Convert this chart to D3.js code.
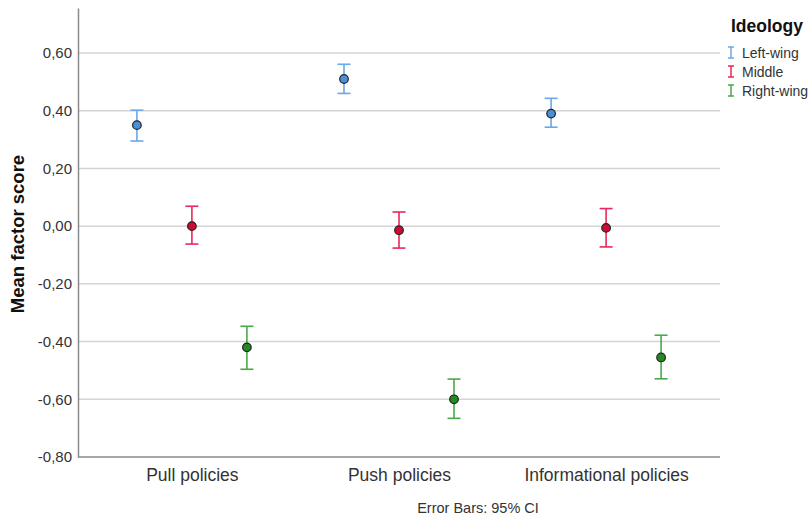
<!DOCTYPE html>
<html>
<head>
<meta charset="utf-8">
<script src="https://cdn.jsdelivr.net/npm/d3@7"></script>
<style>
  body { margin: 0; background: #fff; }
  text { font-family: "Liberation Sans", Arial, sans-serif; }
</style>
</head>
<body>
<div id="chart"></div>
<script>
// data
var categories = ["Pull policies", "Push policies", "Informational policies"];
var groups = ["Left-wing", "Middle", "Right-wing"];
var leftMean = [0.35, 0.51, 0.39];
var leftLow = [0.295, 0.46, 0.343];
var leftHigh = [0.402, 0.561, 0.443];
var middleMean = [0.00, -0.014, -0.006];
var middleLow = [-0.062, -0.076, -0.072];
var middleHigh = [0.069, 0.049, 0.061];
var rightMean = [-0.42, -0.60, -0.455];
var rightLow = [-0.496, -0.666, -0.529];
var rightHigh = [-0.347, -0.53, -0.378];
var yTicks = [-0.8, -0.6, -0.4, -0.2, 0, 0.2, 0.4, 0.6];

var series = [
    { name: groups[0], mean: leftMean, lo: leftLow, hi: leftHigh, bar: "#6aa8ec", fill: "#4b8fd6" },
    { name: groups[1], mean: middleMean, lo: middleLow, hi: middleHigh, bar: "#e8285a", fill: "#cc0a35" },
    { name: groups[2], mean: rightMean, lo: rightLow, hi: rightHigh, bar: "#4aa84a", fill: "#238a23" }
];

// plot box (named so they don't clash with window.top)
var W = 811, H = 519;
var plotLeft = 78, plotRight = 720, plotTop = 8, plotBottom = 457;

var svg = d3.select("#chart")
    .append("svg")
    .attr("width", W)
    .attr("height", H);

var x = d3.scalePoint()
    .domain(categories)
    .range([plotLeft, plotRight])
    .padding(0.55);

var offset = d3.scalePoint()
    .domain(groups)
    .range([-55, 55]);

var y = d3.scaleLinear()
    .domain([-0.8, 0.756])
    .range([plotBottom, plotTop]);

var fmt = function (d) { return d3.format(".2f")(d).replace(".", ",").replace("−", "-"); };

// gridlines
svg.append("g")
    .selectAll("line")
    .data(yTicks.filter(function (d) { return d > -0.8; }))
    .enter()
    .append("line")
    .attr("x1", plotLeft)
    .attr("x2", plotRight)
    .attr("y1", function (d) { return y(d); })
    .attr("y2", function (d) { return y(d); })
    .attr("stroke", "#d4d4d4")
    .attr("stroke-width", 1.5);

// Y axis
var yAxis = svg.append("g")
    .attr("transform", "translate(" + plotLeft + ",0)")
    .call(d3.axisLeft(y).tickValues(yTicks).tickFormat(fmt).tickSize(0).tickPadding(6));
yAxis.select(".domain").attr("stroke", "#8a8a8a").attr("stroke-width", 1.5);
yAxis.selectAll("text").attr("font-size", 15).attr("fill", "#333");

// X axis
var xAxis = svg.append("g")
    .attr("transform", "translate(0," + plotBottom + ")")
    .call(d3.axisBottom(x).tickSize(0));
xAxis.select(".domain").attr("d", "M" + plotLeft + ",0H" + plotRight).attr("stroke", "#8a8a8a").attr("stroke-width", 1.5);
xAxis.selectAll("text")
    .attr("y", 24).attr("dy", null)
    .attr("font-size", 17.5).attr("fill", "#333");

// error bars and markers
series.forEach(function (s) {
    var g = svg.append("g");
    var pts = categories.map(function (c, i) {
        return { cx: x(c) + offset(s.name), mean: s.mean[i], lo: s.lo[i], hi: s.hi[i] };
    });
    g.selectAll(".stem").data(pts).enter().append("line")
        .attr("x1", function (d) { return d.cx; })
        .attr("x2", function (d) { return d.cx; })
        .attr("y1", function (d) { return y(d.lo); })
        .attr("y2", function (d) { return y(d.hi); })
        .attr("stroke", s.bar).attr("stroke-width", 1.6);
    ["lo", "hi"].forEach(function (k) {
        g.selectAll(".cap" + k).data(pts).enter().append("line")
            .attr("x1", function (d) { return d.cx - 6.5; })
            .attr("x2", function (d) { return d.cx + 6.5; })
            .attr("y1", function (d) { return y(d[k]); })
            .attr("y2", function (d) { return y(d[k]); })
            .attr("stroke", s.bar).attr("stroke-width", 1.6);
    });
    g.selectAll("circle").data(pts).enter().append("circle")
        .attr("cx", function (d) { return d.cx; })
        .attr("cy", function (d) { return y(d.mean); })
        .attr("r", 4.3)
        .attr("fill", s.fill)
        .attr("stroke", "#222")
        .attr("stroke-width", 1.2);
});

// Y title
svg.append("text")
    .attr("transform", "translate(24,234)rotate(-90)")
    .attr("text-anchor", "middle")
    .attr("font-size", 18.5)
    .attr("font-weight", "bold")
    .attr("fill", "#111")
    .text("Mean factor score");

// legend
svg.append("text")
    .attr("x", 731).attr("y", 32)
    .attr("font-size", 17.5).attr("font-weight", "bold").attr("fill", "#111")
    .text("Ideology");
series.forEach(function (s, i) {
    var ly = 53 + i * 19;
    var lg = svg.append("g").attr("transform", "translate(731," + ly + ")");
    lg.append("path")
        .attr("d", "M-3,-6H3M0,-6V5M-3,5H3")
        .attr("stroke", s.bar).attr("stroke-width", 1.5).attr("fill", "none");
    lg.append("text")
        .attr("x", 11).attr("y", 5)
        .attr("font-size", 14).attr("fill", "#333")
        .text(s.name);
});

// footnote
svg.append("text")
    .attr("x", 478).attr("y", 513)
    .attr("text-anchor", "middle")
    .attr("font-size", 14.5).attr("fill", "#333")
    .text("Error Bars: 95% CI");
</script>
</body>
</html>
